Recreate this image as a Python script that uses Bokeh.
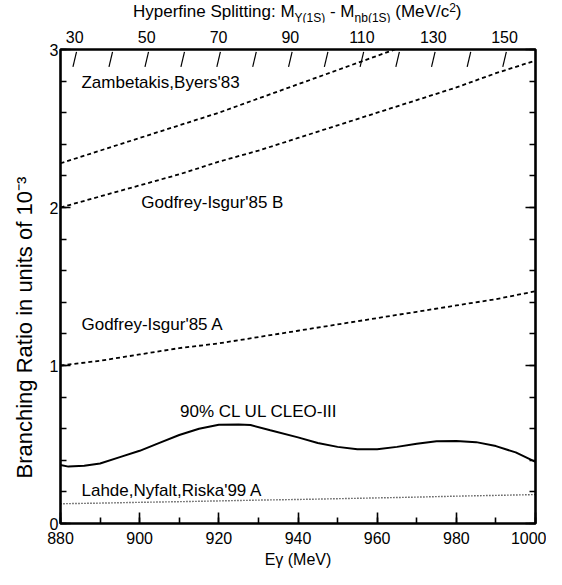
from bokeh.plotting import figure
from bokeh.layouts import column
from bokeh.models import (Range1d, LinearAxis, FixedTicker, SingleIntervalTicker,
                          Label, Title, Div, CustomJSTickFormatter)
from bokeh.embed import file_html
from bokeh.resources import INLINE

# ---------------- data ----------------
e_model = [880, 890, 900, 910, 920, 930, 940, 950, 960, 970, 980, 990, 1000]
zambetakis = [2.28, 2.36, 2.44, 2.52, 2.60, 2.69, 2.78, 2.87, 2.96, 3.05, 3.14, 3.24, 3.34]
godfrey_b = [2.00, 2.07, 2.14, 2.21, 2.29, 2.36, 2.44, 2.52, 2.60, 2.68, 2.76, 2.85, 2.93]
godfrey_a = [1.00, 1.03, 1.07, 1.11, 1.14, 1.18, 1.22, 1.26, 1.30, 1.34, 1.38, 1.42, 1.47]
lahde = [0.125, 0.129, 0.134, 0.138, 0.143, 0.148, 0.152, 0.157, 0.162, 0.167, 0.173, 0.178, 0.183]

cleo_e = [880, 882, 886, 890, 895, 900, 905, 910, 915, 920, 925, 928, 933, 940,
          945, 950, 955, 960, 965, 970, 975, 980, 985, 990, 995, 1000]
cleo_br = [0.37, 0.36, 0.365, 0.38, 0.42, 0.46, 0.51, 0.56, 0.60, 0.625, 0.627, 0.623, 0.59, 0.545,
           0.51, 0.485, 0.47, 0.47, 0.485, 0.505, 0.52, 0.522, 0.515, 0.49, 0.45, 0.39]

hfs_labels = [30, 50, 70, 90, 110, 130, 150]
hfs_marks = [30, 40, 50, 60, 70, 80, 90, 100, 110, 120, 130, 140, 150]
M_3S = 10355.2
M_1S = 9460.3

FONT = "Liberation Sans"
FIG_W = 546
DIV_H = 22
FIG_H = 548


def egamma(dm):
    m = M_1S - dm
    return (M_3S ** 2 - m ** 2) / (2 * M_3S)


W = {' ': 278, '(': 333, ')': 333, '-': 333, '/': 278, ':': 278, '0': 556, '1': 556,
     '2': 556, '3': 556, 'B': 667, 'H': 722, 'M': 833, 'R': 722, 'S': 667, 'V': 667,
     'a': 556, 'b': 556, 'c': 500, 'e': 556, 'f': 278, 'g': 556, 'h': 556, 'i': 222,
     'l': 222, 'n': 556, 'o': 556, 'p': 556, 'r': 333, 's': 500, 't': 278, 'u': 556,
     'y': 500, 'Υ': 667, 'η': 556}


def tw(s, size):
    return sum(W.get(c, 556) for c in s) * size / 1000.0


p = figure(width=FIG_W, height=FIG_H, output_backend="svg", toolbar_location=None,
           x_range=Range1d(880, 1000), y_range=Range1d(0, 3),
           min_border_left=59, min_border_right=11, min_border_top=27, min_border_bottom=46,
           margin=(0, 0, 0, 0))
p.grid.visible = False
p.outline_line_color = "black"
p.outline_line_width = 2.6
p.background_fill_color = "white"
p.border_fill_color = "white"


def style_axis(ax, tick_in=10, minor_in=6):
    ax.axis_line_color = None
    ax.major_tick_in = tick_in
    ax.major_tick_out = 0
    ax.minor_tick_in = minor_in
    ax.minor_tick_out = 0
    ax.major_tick_line_color = "black"
    ax.major_tick_line_width = 1.6
    ax.minor_tick_line_color = "black"
    ax.minor_tick_line_width = 1.6
    ax.major_label_text_font = FONT
    ax.major_label_text_font_size = "16px"
    ax.major_label_text_color = "black"
    ax.axis_label_text_font = FONT
    ax.axis_label_text_font_style = "normal"
    ax.axis_label_text_color = "black"


# bottom axis
xax = p.xaxis[0]
xax.ticker = SingleIntervalTicker(interval=20, num_minor_ticks=2)
style_axis(xax, 11, 6)
xax.major_label_standoff = 8
xax.axis_label = "Eγ (MeV)"
xax.axis_label_text_font_size = "16px"
xax.axis_label_standoff = 4

# left axis
yax = p.yaxis[0]
yax.ticker = SingleIntervalTicker(interval=1, num_minor_ticks=5)
style_axis(yax, 10, 6)
yax.major_label_standoff = 2

# right axis
rax = LinearAxis(ticker=SingleIntervalTicker(interval=1, num_minor_ticks=5))
style_axis(rax, 10, 6)
rax.major_label_overrides = {0: "", 1: "", 2: "", 3: ""}
rax.major_label_standoff = 0
p.add_layout(rax, "right")

# top axis: hyperfine splitting
tax = LinearAxis(ticker=FixedTicker(ticks=[egamma(v) for v in hfs_labels], minor_ticks=[]),
                 formatter=CustomJSTickFormatter(args=dict(labels=[str(v) for v in hfs_labels]),
                                                 code="return labels[index];"))
style_axis(tax, 0, 0)
tax.major_label_standoff = 7
p.add_layout(tax, "above")

# left axis title (rotated, placed along the axis)
p.add_layout(Title(text="Branching Ratio in units of 10⁻³", align="left", offset=45,
                   standoff=19, text_font=FONT, text_font_size="22px",
                   text_font_style="normal", text_color="black"), "left")

# slanted marks along the top
mx = [egamma(v) for v in hfs_marks]
p.segment(x0=[x - 0.45 for x in mx], y0=[2.89] * len(mx),
          x1=[x + 0.45 for x in mx], y1=[2.985] * len(mx),
          line_color="black", line_width=1.2)

# curves
p.line(e_model, zambetakis, line_color="black", line_width=1.8, line_dash="4 3")
p.line(e_model, godfrey_b, line_color="black", line_width=1.8, line_dash="4 3")
p.line(e_model, godfrey_a, line_color="black", line_width=1.8, line_dash="4 3")
p.line(e_model, lahde, line_color="black", line_width=1.4, line_dash="1 2")
p.line(cleo_e, cleo_br, line_color="black", line_width=2.0)

# annotations
ann = [
    ("Zambetakis,Byers'83", 885.3, 2.79),
    ("Godfrey-Isgur'85 B", 900.4, 2.03),
    ("Godfrey-Isgur'85 A", 885.3, 1.26),
    ("90% CL UL CLEO-III", 910.2, 0.71),
    ("Lahde,Nyfalt,Riska'99 A", 885.3, 0.21),
]
for txt, x, y in ann:
    p.add_layout(Label(x=x, y=y, text=txt, text_font=FONT, text_font_size="17px",
                       text_baseline="middle", text_align="left", text_color="black"))

# top title with sub/superscripts (HTML above the figure)
MAIN, SMALL = 17, 12
pieces = [("Hyperfine Splitting: M", MAIN), ("Υ(1S)", SMALL), (" - M", MAIN),
          ("ηb(1S)", SMALL), (" (MeV/c", MAIN), ("2", SMALL), (")", MAIN)]
total = sum(tw(s, sz) for s, sz in pieces)
pad_left = int(round((59 + 535) / 2 - total / 2))
sub = '<span style="font-size:12px;position:relative;top:4.5px">{}</span>'
sup = '<span style="font-size:12px;position:relative;top:-5px">{}</span>'
html = ('<div style="font-family:\'Liberation Sans\';font-size:17px;line-height:20px;'
        'color:black;white-space:nowrap;padding-top:2px;padding-left:{}px">'
        'Hyperfine Splitting: M{} - M{} (MeV/c{})</div>').format(
    pad_left, sub.format("Υ(1S)"), sub.format("ηb(1S)"), sup.format("2"))
title_div = Div(text=html, width=FIG_W, height=DIV_H, margin=(0, 0, 0, 0))

layout = column(title_div, p, spacing=0)
open("out.html", "w").write(file_html(layout, INLINE))
